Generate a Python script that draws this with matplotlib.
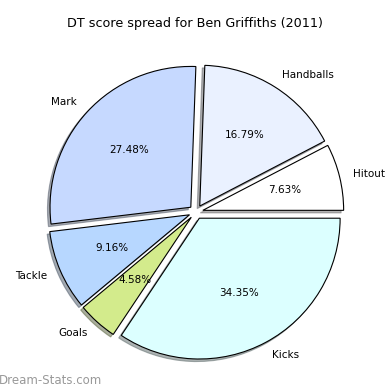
import matplotlib
matplotlib.use("Agg")
import matplotlib.pyplot as plt

# DT score spread, points per stat category
labels = ['Hitout', 'Handballs', 'Mark', 'Tackle', 'Goals', 'Kicks']
points = [10, 22, 36, 12, 6, 45]
colors = ['#ffffff', '#eaf1ff', '#c6d9ff', '#b7d7ff', '#d3eb8c', '#dcffff']
explode = [0.05] * len(points)

fig = plt.figure(figsize=(3.9, 3.9), dpi=100)
ax = fig.add_axes([20 / 390, 2 / 390, 352 / 390, 352 / 390])

ax.pie(points, labels=labels, colors=colors, explode=explode,
       autopct='%1.2f%%', shadow={'ox': -0.013, 'oy': -0.013, 'shade': 0.6},
       startangle=0,
       wedgeprops={'edgecolor': 'black', 'linewidth': 0.8},
       textprops={'fontsize': 7.5})
ax.set_aspect('equal')

fig.text(0.5, 1 - 23 / 390, 'DT score spread for Ben Griffiths (2011)',
         ha='center', va='center', fontsize=9.2)
fig.text(-0.003, 10 / 390, 'Dream-Stats.com', ha='left', va='center',
         fontsize=8.5, color='#999999')

fig.savefig('out.png', dpi=100)
